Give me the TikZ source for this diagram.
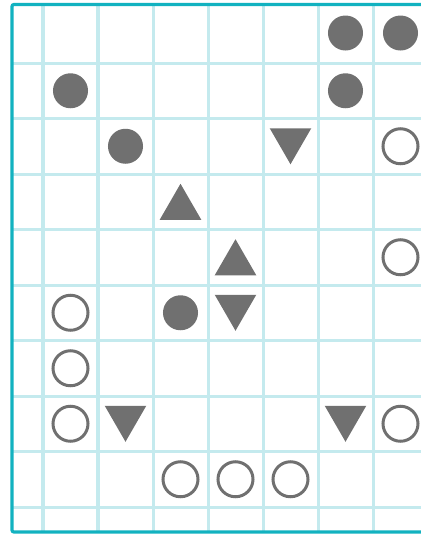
\documentclass[tikz,border=0pt]{standalone}
\usetikzlibrary{shapes.geometric}

\definecolor{gridcyan}{RGB}{196,234,238}
\definecolor{frameteal}{RGB}{18,178,192}
\definecolor{markgray}{RGB}{112,112,112}

\begin{document}
\begin{tikzpicture}[
    x=0.025cm, y=-0.025cm,
    gridline/.style = {draw=gridcyan, line width=0.075cm},
    frame/.style = {draw=frameteal, line width=0.08cm, rounded corners=0.05cm},
    dot/.style = {circle, fill=markgray, minimum size=0.875cm, inner sep=0pt},
    ring/.style = {circle, draw=markgray, line width=0.075cm, minimum size=0.875cm, inner sep=0pt},
    tri/.style = {regular polygon, regular polygon sides=3, fill=markgray, minimum size=1.2cm, inner sep=0pt},
    tri up/.style = {tri, yshift=-0.15cm},
    tri down/.style = {tri, shape border rotate=180, yshift=0.15cm}
]

    % Page size
    \useasboundingbox (0,0) rectangle (421,535);

    % Grid - columns
    \path [gridline] (43,4) -- (43,532) (98,4) -- (98,532) (153,4) -- (153,532)
        (208,4) -- (208,532) (263,4) -- (263,532) (318,4) -- (318,532) (373,4) -- (373,532);
    % Grid - rows
    \path [gridline] (12,63) -- (421,63) (12,118.5) -- (421,118.5) (12,174) -- (421,174)
        (12,229.5) -- (421,229.5) (12,285) -- (421,285) (12,340.5) -- (421,340.5)
        (12,396) -- (421,396) (12,451.5) -- (421,451.5) (12,507) -- (421,507);

    % Outer frame, open to the right
    \begin{scope}
        \clip (0,0) rectangle (421,535);
        \path [frame] (12,4.5) rectangle (470,532);
    \end{scope}

    % Filled dots
    \node (dotA) [dot] at (345.5,33) {};
    \node (dotB) [dot] at (400.5,33) {};
    \node (dotC) [dot] at (70.5,90.75) {};
    \node (dotD) [dot] at (345.5,90.75) {};
    \node (dotE) [dot] at (125.5,146.25) {};
    \node (dotF) [dot] at (180.5,312.75) {};

    % Open rings
    \node (ringA) [ring] at (400.5,146.25) {};
    \node (ringB) [ring] at (400.5,257.25) {};
    \node (ringC) [ring] at (70.5,312.75) {};
    \node (ringD) [ring] at (70.5,368.25) {};
    \node (ringE) [ring] at (70.5,423.75) {};
    \node (ringF) [ring] at (400.5,423.75) {};
    \node (ringG) [ring] at (180.5,479.25) {};
    \node (ringH) [ring] at (235.5,479.25) {};
    \node (ringI) [ring] at (290.5,479.25) {};

    % Triangles
    \node (upA) [tri up] at (180.5,201.75) {};
    \node (upB) [tri up] at (235.5,257.25) {};
    \node (downA) [tri down] at (290.5,146.25) {};
    \node (downB) [tri down] at (235.5,312.75) {};
    \node (downC) [tri down] at (125.5,423.75) {};
    \node (downD) [tri down] at (345.5,423.75) {};

\end{tikzpicture}
\end{document}
